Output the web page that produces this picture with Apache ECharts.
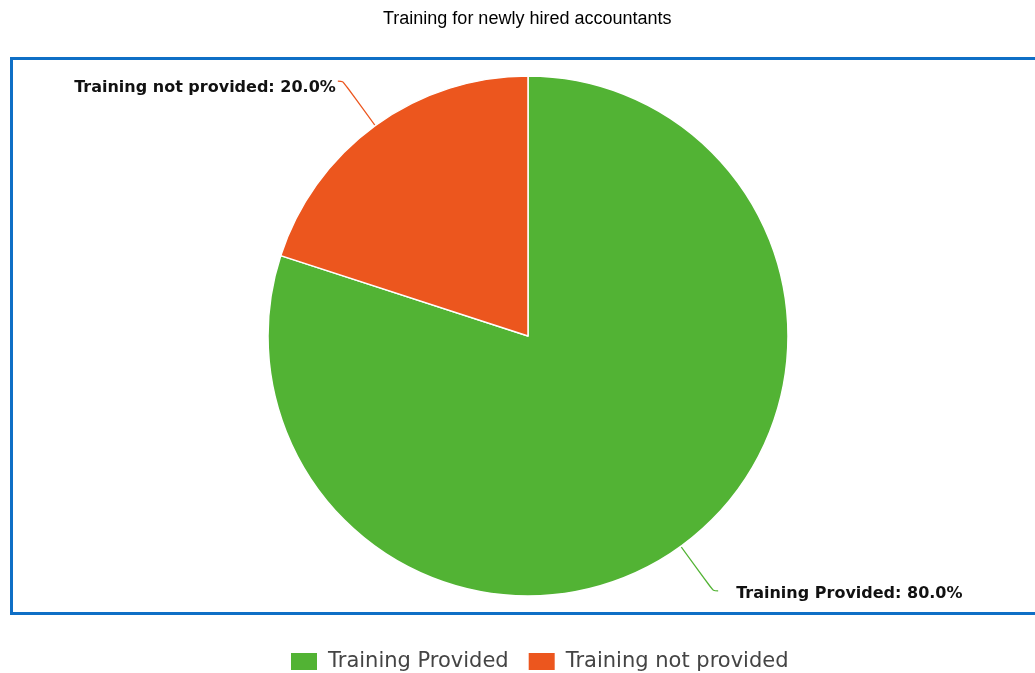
<!DOCTYPE html>
<html>
<head>
<meta charset="utf-8">
<script src="https://cdn.jsdelivr.net/npm/echarts@6/dist/echarts.min.js"></script>
<style>
  html, body { margin: 0; padding: 0; background: #fff; }
  #chart { width: 1035px; height: 673px; }
</style>
</head>
<body>
<div id="chart"></div>
<script>
var titleText = 'Training for newly hired accountants';
var categories = ['Training Provided', 'Training not provided'];
var values = [80, 20];
var colors = ['#52b334', '#ec561e'];

var myChart = echarts.init(document.getElementById('chart'));

var pieData = categories.map(function (name, i) {
    var item = { name: name, value: values[i], itemStyle: { color: colors[i] } };
    if (i === 0) {
        item.label = { padding: [0, 0, 0, 16] };
    }
    return item;
});

var option = {
    animation: false,
    backgroundColor: '#fff',
    title: {
        text: titleText,
        left: 378,
        top: 5,
        textStyle: { fontFamily: 'Liberation Sans', fontSize: 18, fontWeight: 'normal', color: '#000' }
    },
    graphic: [{
        type: 'rect',
        shape: { x: 11.5, y: 58.5, width: 1040, height: 555 },
        style: { fill: 'none', stroke: '#0f6fc6', lineWidth: 3 },
        silent: true,
        z: -1
    }],
    legend: {
        data: categories,
        left: 284,
        top: 646,
        itemWidth: 28,
        itemHeight: 19,
        itemGap: 18,
        icon: 'rect',
        textStyle: { fontFamily: 'DejaVu Sans', fontSize: 21, color: '#444', padding: [0, 0, 0, 5] }
    },
    series: [{
        type: 'pie',
        center: [528, 336],
        radius: 260,
        startAngle: 90,
        clockwise: true,
        data: pieData,
        itemStyle: { borderColor: '#fff', borderWidth: 1.5 },
        label: {
            show: true,
            position: 'outside',
            formatter: function (p) { return p.name + ': ' + p.value.toFixed(1) + '%'; },
            fontFamily: 'DejaVu Sans',
            fontWeight: 'bold',
            fontSize: 16,
            color: '#111',
            distanceToLabelLine: 2
        },
        labelLayout: function (params) {
            return { dy: params.dataIndex === 0 ? 3 : 7 };
        },
        labelLine: {
            show: true,
            length: 55,
            length2: 5,
            smooth: true,
            lineStyle: { width: 1.2 }
        },
        emphasis: { disabled: true }
    }]
};

myChart.setOption(option);
window.addEventListener('resize', function () {
    myChart.resize();
});
</script>
</body>
</html>
